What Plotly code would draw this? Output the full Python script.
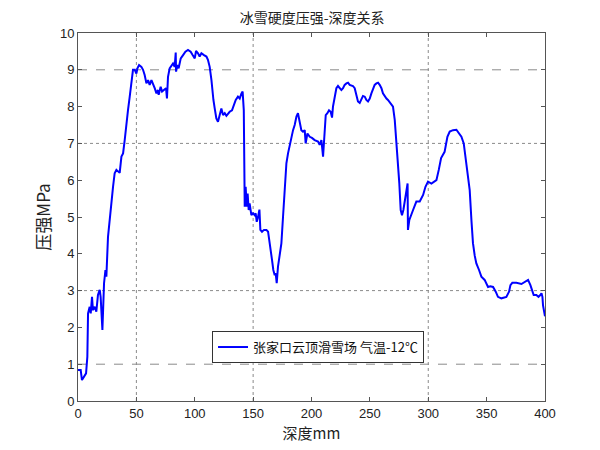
import plotly.graph_objects as go

depth = [0, 2.3, 3.4, 5.1, 6.9, 8.0, 8.6, 10.0, 10.9, 12.0, 12.8, 14.3, 15.7, 17.1, 18.6, 19.4, 20.0, 20.9,
         21.7, 22.3, 23.5, 24.3, 25.7, 27.2, 28.6, 30.0, 31.4, 32.9, 34.3, 35.7, 37.2, 38.6, 40.0, 41.4,
         42.8, 44.3, 45.7, 47.1, 48.6, 50.0, 50.9, 52.3, 54.3, 55.7, 57.1, 58.6, 60.0, 61.4, 62.9, 64.2,
         65.7, 67.2, 68.5, 69.1, 70.8, 72.0, 73.7, 75.4, 76.2, 77.1, 78.5, 80.0, 81.4, 82.8, 83.7, 84.0,
         85.1, 86.2, 88.0, 90.0, 92.0, 94.2, 96.5, 98.2, 100.0, 101.1, 102.8, 104.2, 105.7, 107.9, 110.0,
         111.3, 112.8, 114.3, 115.1, 116.0, 117.1, 118.5, 119.9, 121.4, 122.8, 124.2, 125.7, 127.1, 128.5,
         129.9, 131.9, 133.6, 135.1, 137.0, 138.5, 140.0, 141.0, 142.0, 142.5, 142.8, 143.6, 144.5, 145.3,
         146.2, 147.0, 148.5, 149.9, 151.4, 152.2, 153.1, 154.2, 155.4, 156.2, 157.6, 159.3, 161.4, 162.8,
         163.9, 165.0, 166.2, 167.3, 168.5, 169.3, 170.2, 171.3, 172.8, 174.2, 175.6, 177.0, 178.5, 179.9,
         181.3, 182.8, 184.2, 185.6, 187.1, 188.4, 189.9, 191.3, 192.7, 194.2, 195.0, 196.5, 198.5, 200.4,
         202.7, 205.6, 207.0, 208.5, 209.9, 210.7, 212.2, 213.6, 215.0, 216.4, 217.6, 218.4, 219.9, 221.3,
         222.7, 224.2, 225.6, 227.0, 228.4, 229.9, 231.3, 232.7, 234.2, 235.5, 237.0, 238.5, 239.8, 241.3,
         242.7, 244.1, 245.6, 247.0, 248.4, 249.9, 251.3, 252.7, 254.1, 255.6, 257.0, 258.4, 259.9, 261.2,
         262.7, 264.2, 265.5, 267.8, 269.8, 271.3, 272.7, 274.1, 275.2, 276.4, 277.5, 278.7, 281.0, 282.3,
         282.6, 283.8, 287.0, 289.8, 292.7, 295.6, 297.6, 299.8, 302.7, 307.0, 309.0, 311.0, 314.0, 316.4,
         318.4, 321.2, 324.1, 326.0, 328.4, 330.4, 332.0, 333.5, 335.5, 337.0, 338.3, 339.8, 341.2, 343.5,
         345.5, 348.3, 351.2, 353.2, 355.5, 357.8, 359.7, 362.6, 366.9, 369.2, 370.4, 372.0, 375.5, 379.8,
         382.6, 385.5, 387.5, 390.3, 392.6, 394.4, 396.0, 397.0, 397.8, 398.3, 400.0]

pressure = [0.84, 0.84, 0.57, 0.66, 0.75, 1.2, 2.38, 2.56, 2.38, 2.83, 2.47, 2.56, 2.43, 2.88, 3.02, 2.83, 2.29, 1.93,
            2.65, 3.2, 3.56, 3.38, 4.46, 5.0, 5.46, 5.82, 6.19, 6.28, 6.24, 6.2, 6.64, 6.73, 7.09, 7.55,
            7.9, 8.27, 8.72, 9.0, 9.0, 8.9, 9.04, 9.13, 9.08, 9.0, 8.86, 8.63, 8.72, 8.59, 8.72, 8.59,
            8.5, 8.36, 8.45, 8.32, 8.54, 8.41, 8.45, 8.5, 8.22, 8.81, 9.04, 9.13, 9.17, 9.08, 9.47, 8.95,
            9.13, 9.04, 9.31, 9.4, 9.49, 9.54, 9.49, 9.4, 9.31, 9.51, 9.45, 9.36, 9.45, 9.4, 9.36,
            9.27, 9.08, 8.72, 8.41, 8.18, 7.95, 7.68, 7.59, 7.77, 7.95, 7.77, 7.82, 7.75, 7.82,
            7.86, 7.9, 8.04, 8.18, 8.27, 8.22, 8.36, 8.41, 7.9, 6.96, 5.28, 5.82, 5.28, 5.64,
            5.19, 5.37, 5.05, 5.1, 5.05, 5.1, 4.87, 5.0, 5.2, 4.65, 4.6, 4.65, 4.65, 4.6,
            4.37, 4.19, 3.83, 3.56, 3.42, 3.47, 3.2, 3.65, 3.92, 4.28, 5.0, 5.82, 6.46, 6.73,
            6.96, 7.18, 7.36, 7.5, 7.73, 7.82, 7.59, 7.36, 7.32, 7.36, 7.0, 7.27, 7.18, 7.15,
            7.09, 7.05, 6.96, 7.09, 6.64, 7.18, 7.77, 7.82, 7.9, 7.86, 7.7, 8.0, 8.27, 8.5,
            8.56, 8.5, 8.45, 8.5, 8.59, 8.63, 8.65, 8.59, 8.57, 8.56, 8.5, 8.32, 8.14, 8.1,
            8.22, 8.29, 8.27, 8.18, 8.14, 8.22, 8.36, 8.5, 8.59, 8.63, 8.65, 8.59, 8.5, 8.36,
            8.27, 8.22, 8.18, 8.09, 8.0, 7.64, 7.09, 6.46, 5.92, 5.19, 5.05, 5.19, 5.73, 5.91,
            4.65, 4.92, 5.19, 5.42, 5.42, 5.6, 5.82, 5.96, 5.91, 6.0, 6.28, 6.6, 6.77, 7.18,
            7.32, 7.36, 7.37, 7.27, 7.18, 7.0, 6.64, 6.28, 5.73, 4.9, 4.29, 3.95, 3.74, 3.56,
            3.38, 3.29, 3.1, 3.12, 3.1, 2.97, 2.83, 2.79, 2.83, 2.97, 3.15, 3.21, 3.21, 3.18,
            3.24, 3.29, 3.15, 2.88, 2.88, 2.83, 2.88, 2.93, 2.83, 2.6, 2.3]

x_ticks = [0, 50, 100, 150, 200, 250, 300, 350, 400]
y_ticks = [0, 1, 2, 3, 4, 5, 6, 7, 8, 9, 10]
v_grid = [50, 150, 300]
v_grid_dash = ["dot", "dot", "dot"]
h_grid = [1, 3, 7, 9]
h_grid_dash = ["dash", "dot", "dot", "dash"]

series_name = "张家口云顶滑雪场 气温-12℃"
title_text = "冰雪硬度压强-深度关系"
x_title = "深度mm"
y_title = "压强MPa"

fig = go.Figure()
fig.add_trace(go.Scatter(x=depth, y=pressure, mode="lines", name=series_name,
                         line=dict(color="#0000FF", width=2)))

shapes = []
for xv, d in zip(v_grid, v_grid_dash):
    shapes.append(dict(type="line", xref="x", yref="paper", x0=xv, x1=xv, y0=0, y1=1,
                       line=dict(color="#8a8a8a", width=1, dash=d), layer="below"))
for yv, d in zip(h_grid, h_grid_dash):
    shapes.append(dict(type="line", xref="paper", yref="y", x0=0, x1=1, y0=yv, y1=yv,
                       line=dict(color="#8a8a8a", width=1, dash=d), layer="below"))

axis_common = dict(showgrid=False, zeroline=False, showline=True, linecolor="#555555", linewidth=1,
                   mirror="ticks", ticks="inside", ticklen=4, tickcolor="#555555",
                   tickfont=dict(family="Liberation Sans, Arial", size=13, color="#222222"))

fig.update_layout(
    width=600, height=450,
    margin=dict(l=70, r=63, t=25, b=57),
    paper_bgcolor="white", plot_bgcolor="white",
    title=dict(text=title_text, x=0.507, xanchor="center", y=0.978, yanchor="middle",
               font=dict(family="Noto Sans CJK SC", size=14, color="#222222")),
    xaxis=dict(range=[0, 400], tickvals=x_ticks,
               title=dict(text=x_title, standoff=8, font=dict(family="Noto Sans CJK SC", size=15, color="#222222")),
               **axis_common),
    yaxis=dict(range=[0, 10], tickvals=y_ticks,
               title=dict(text=y_title, standoff=4, font=dict(family="Noto Sans CJK SC", size=17, color="#222222")),
               **axis_common),
    shapes=shapes,
    showlegend=True,
    legend=dict(x=0.287, y=0.19, xanchor="left", yanchor="top",
                bgcolor="white", bordercolor="#333333", borderwidth=1,
                font=dict(family="Noto Sans CJK SC", size=13, color="#111111"),
                tracegroupgap=0, itemwidth=30),
)

fig.write_html("out.html")
